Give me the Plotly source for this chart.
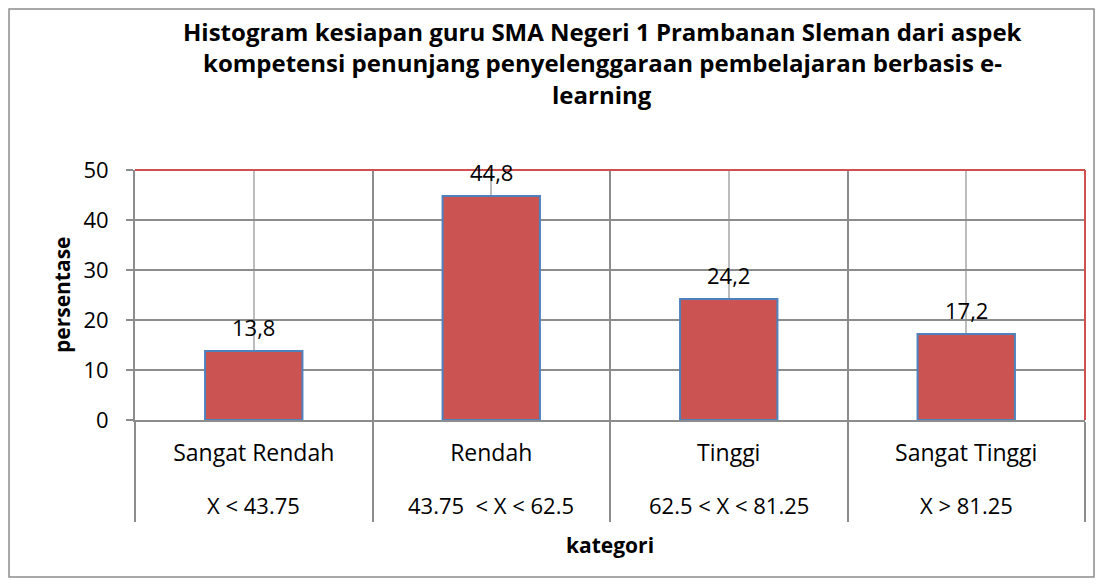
import plotly.graph_objects as go

# data
kategori = ['Sangat Rendah', 'Rendah', 'Tinggi', 'Sangat Tinggi']
rentang = ['X < 43.75', '43.75  < X < 62.5', '62.5 < X < 81.25', 'X > 81.25']
persentase = [13.8, 44.8, 24.2, 17.2]
label_nilai = ['13,8', '44,8', '24,2', '17,2']
judul = ['Histogram kesiapan guru SMA Negeri 1 Prambanan Sleman dari aspek',
         'kompetensi penunjang penyelenggaraan pembelajaran berbasis e-',
         'learning']

FONT = 'Open Sans, Calibri, sans-serif'
posisi = list(range(len(kategori)))

fig = go.Figure()
fig.add_trace(go.Bar(x=posisi, y=persentase, width=0.41,
                     marker=dict(color='#CB5452', line=dict(color='#4F81BD', width=2)),
                     hoverinfo='skip'))

# label nilai di atas batang
for i, v in enumerate(persentase):
    fig.add_annotation(x=i, y=v, text=label_nilai[i], showarrow=False, yanchor='middle',
                       yshift=24, font=dict(size=22, color='black', family=FONT))

# baris kedua label kategori
for i, r in enumerate(rentang):
    fig.add_annotation(x=i, y=-0.34, yref='paper', yanchor='middle', text=r, showarrow=False,
                       font=dict(size=22, color='black', family=FONT))

# judul
for k, baris in enumerate(judul):
    fig.add_annotation(x=0.4916, y=1.555 - k * 0.126, xref='paper', yref='paper',
                       yanchor='middle', text='<b>' + baris + '</b>', showarrow=False,
                       font=dict(size=24, color='black', family=FONT))

fig.add_annotation(x=0.5, y=-0.5, xref='paper', yref='paper', yanchor='middle',
                   text='<b>kategori</b>', showarrow=False,
                   font=dict(size=21, color='black', family=FONT))
fig.add_annotation(x=-0.0768, y=0.5, xref='paper', yref='paper', xanchor='center',
                   yanchor='middle', text='<b>persentase</b>', textangle=-90, showarrow=False,
                   font=dict(size=21, color='black', family=FONT))

# garis merah atas dan kanan
fig.add_shape(type='line', xref='x domain', yref='y domain', x0=0, x1=1, y0=1, y1=1,
              line=dict(color='#D05050', width=2))
fig.add_shape(type='line', xref='x domain', yref='y domain', x0=1, x1=1, y0=0, y1=1,
              line=dict(color='#D05050', width=2))
# bingkai luar
fig.add_shape(type='rect', xref='paper', yref='paper', x0=-0.1326, x1=1.0095, y0=-0.628, y1=1.644,
              line=dict(color='#8C8C8C', width=1.5))

# halaman punya margin 8px, jadi ukuran dikurangi
fig.update_layout(
    width=1096, height=578,
    margin=dict(l=127, r=19, t=162, b=166),
    paper_bgcolor='white', plot_bgcolor='white',
    showlegend=False,
    font=dict(family=FONT, color='black'),
    xaxis=dict(range=[-0.5, 3.5], tickvals=posisi, ticktext=kategori,
               tickfont=dict(size=23), ticklabelstandoff=11,
               showgrid=True, gridcolor='#BDBDBD', gridwidth=1.5,
               showline=True, linecolor='#8C8C8C', linewidth=2, zeroline=False,
               minor=dict(tickvals=[-0.5, 0.5, 1.5, 2.5, 3.5], showgrid=True,
                          gridcolor='#8C8C8C', gridwidth=2, ticks='outside',
                          ticklen=100, tickcolor='#8C8C8C', tickwidth=2)),
    yaxis=dict(range=[0, 50], dtick=10, tickfont=dict(size=22), ticklabelstandoff=13,
               showgrid=True, gridcolor='#8C8C8C', gridwidth=2,
               showline=True, linecolor='#8C8C8C', linewidth=2, zeroline=False,
               ticks='outside', ticklen=7, tickcolor='#8C8C8C', tickwidth=2),
)

fig.write_html('out.html')
